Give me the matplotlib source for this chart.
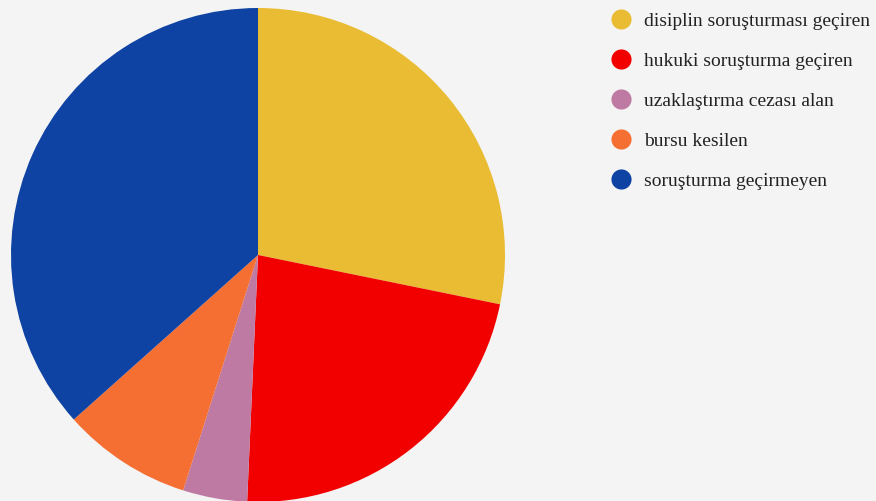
import matplotlib.pyplot as plt
from matplotlib.lines import Line2D

labels = ['disiplin soruşturması geçiren', 'hukuki soruşturma geçiren',
          'uzaklaştırma cezası alan', 'bursu kesilen', 'soruşturma geçirmeyen']
values = [28.2, 22.5, 4.2, 8.5, 36.6]
colors = ['#E9BC34', '#F20000', '#BE7AA2', '#F56F33', '#0E42A3']

bg = '#F4F4F4'
fig = plt.figure(figsize=(8.76, 5.01), dpi=100, facecolor=bg)
ax = fig.add_axes([11/876, -1/501, 494/876, 494/501])
ax.set_facecolor(bg)
ax.pie(values, colors=colors, startangle=90, counterclock=False, radius=1,
       wedgeprops={'linewidth': 0})
ax.set_xlim(-1, 1)
ax.set_ylim(-1, 1)
ax.axis('off')

handles = [Line2D([0], [0], marker='o', linestyle='', markersize=14.5,
                  markerfacecolor=c, markeredgewidth=0) for c in colors]
leg = fig.legend(handles, labels, loc='upper left', bbox_to_anchor=(592/876, 1 + 5/501),
                 frameon=False, labelspacing=1.15, handletextpad=0.6, handlelength=1.2,
                 prop={'family': 'Liberation Serif', 'size': 14})
for t in leg.get_texts():
    t.set_color('#222222')

fig.savefig('out.png', dpi=100, facecolor=bg)
